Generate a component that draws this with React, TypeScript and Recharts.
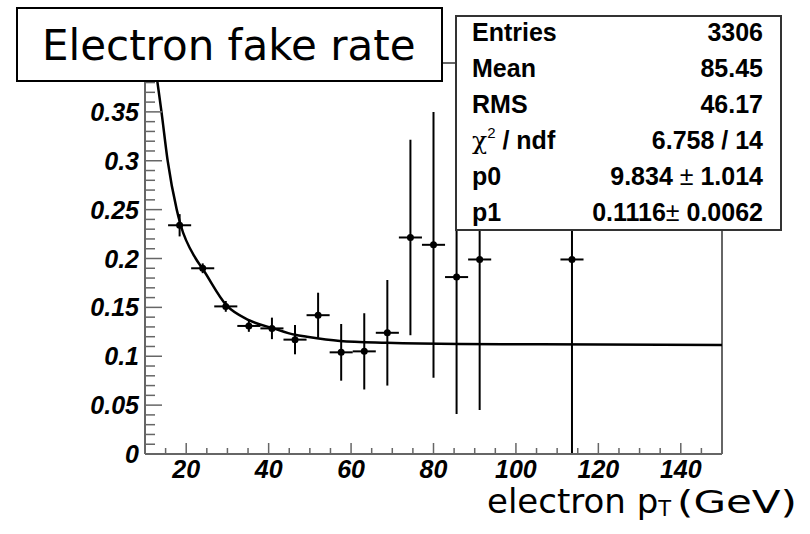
import React from 'react';
import {
  ComposedChart,
  Scatter,
  Line,
  XAxis,
  YAxis,
  ErrorBar,
  ReferenceLine,
} from 'recharts';

// measured fake rate per pT bin
const BIN_CENTER = [18.4, 24.0, 29.6, 35.2, 40.8, 46.4, 52.0, 57.6, 63.2, 68.8, 74.4, 80.0, 85.6, 91.2, 113.6];
const RATE = [0.234, 0.19, 0.151, 0.131, 0.1285, 0.117, 0.142, 0.104, 0.105, 0.124, 0.2215, 0.214, 0.181, 0.199, 0.199];
const RATE_ERR = [0.0114, 0.005, 0.0055, 0.006, 0.011, 0.015, 0.023, 0.029, 0.039, 0.054, 0.1, 0.136, 0.14, 0.154, 0.199];
const BIN_HALF_WIDTH = 2.8;

// fitted curve, sampled along pT
const FIT_PT = [12.4, 13.0, 14.0, 15.5, 17.7, 18.6, 22.3, 23.9, 29.8, 35.2, 41.2, 46.4, 49.3, 57.3, 68.6, 86.4, 105.7, 150];
const FIT_RATE = [0.4, 0.381, 0.35, 0.3, 0.25, 0.235, 0.2, 0.19, 0.152, 0.137, 0.1285, 0.122, 0.12, 0.1157, 0.1138, 0.1125, 0.1122, 0.1114];

// major y ticks; only the ones below the title box carry a label
const Y_MAJOR = [0, 0.05, 0.1, 0.15, 0.2, 0.25, 0.3, 0.35, 0.4];
const Y_LABELS = [0, 0.05, 0.1, 0.15, 0.2, 0.25, 0.3, 0.35];
const X_LABELS = [20, 40, 60, 80, 100, 120, 140];

const STATS = [
  ['Entries', '3306'],
  ['Mean', '85.45'],
  ['RMS', '46.17'],
];

const yTicks = Array.from({ length: 41 }, (_, i) => +(i * 0.01).toFixed(2));
const xTicks = Array.from({ length: 27 }, (_, i) => 15 + i * 5);

const points = BIN_CENTER.map((x, i) => ({ x, y: RATE[i], ey: RATE_ERR[i], ex: BIN_HALF_WIDTH }));
const fit = FIT_PT.map((x, i) => ({ x, y: FIT_RATE[i] }));

const AXIS_COLOR = '#666';
const TICK_FONT = '"Liberation Sans", Arial, sans-serif';
const isIn = (list: number[], v: number) => list.some((t) => Math.abs(t - v) < 1e-6);

const YTick = (props: any) => {
  const { x, y, payload } = props;
  const major = isIn(Y_MAJOR, payload.value);
  return (
    <g>
      <line x1={x} y1={y} x2={x + (major ? 17 : 10)} y2={y} stroke={AXIS_COLOR} strokeWidth={1.5} />
      {isIn(Y_LABELS, payload.value) && (
        <text
          x={x - 6}
          y={y}
          dy="0.36em"
          textAnchor="end"
          fontFamily={TICK_FONT}
          fontWeight="bold"
          fontStyle="italic"
          fontSize={25}
          fill="#000"
        >
          {String(payload.value)}
        </text>
      )}
    </g>
  );
};

const XTick = (props: any) => {
  const { x, y, payload } = props;
  const major = X_LABELS.includes(payload.value);
  return (
    <g>
      <line x1={x} y1={y} x2={x} y2={y - (major ? 11 : 6)} stroke={AXIS_COLOR} strokeWidth={1.5} />
      {major && (
        <text
          x={x}
          y={y + 24}
          textAnchor="middle"
          fontFamily={TICK_FONT}
          fontWeight="bold"
          fontStyle="italic"
          fontSize={25}
          fill="#000"
        >
          {payload.value}
        </text>
      )}
    </g>
  );
};

const Dot = (props: any) => <circle cx={props.cx} cy={props.cy} r={3.5} fill="#000" />;

export default function App() {
  const statsFont = '"Liberation Sans", Arial, sans-serif';
  const titleFont = '"DejaVu Sans", Verdana, sans-serif';
  return (
    <div style={{ position: 'absolute', left: 0, top: 0, width: 810, height: 534, background: '#fff' }}>
      <ComposedChart
        width={810}
        height={534}
        margin={{ top: 63, right: 88, bottom: 50, left: 85 }}
      >
        <XAxis
          type="number"
          dataKey="x"
          domain={[10, 150]}
          allowDataOverflow
          ticks={xTicks}
          interval={0}
          tickSize={0}
          tickMargin={0}
          height={30}
          axisLine={{ stroke: AXIS_COLOR, strokeWidth: 2 }}
          tickLine={false}
          tick={<XTick />}
        />
        <YAxis
          type="number"
          domain={[0, 0.4]}
          allowDataOverflow
          ticks={yTicks}
          interval={0}
          tickSize={0}
          tickMargin={0}
          width={60}
          axisLine={{ stroke: AXIS_COLOR, strokeWidth: 2 }}
          tickLine={false}
          tick={<YTick />}
        />
        <ReferenceLine y={0.4} stroke={AXIS_COLOR} strokeWidth={2} />
        <ReferenceLine x={150} stroke={AXIS_COLOR} strokeWidth={2} />
        <Line
          data={fit}
          dataKey="y"
          type="monotone"
          stroke="#000"
          strokeWidth={2.5}
          dot={false}
          isAnimationActive={false}
        />
        <Scatter data={points} dataKey="y" shape={<Dot />} isAnimationActive={false}>
          <ErrorBar dataKey="ey" direction="y" width={0} stroke="#000" strokeWidth={2} />
          <ErrorBar dataKey="ex" direction="x" width={0} stroke="#000" strokeWidth={2} />
        </Scatter>
      </ComposedChart>

      <svg
        width={810}
        height={534}
        style={{ position: 'absolute', left: 0, top: 0, pointerEvents: 'none' }}
      >
        {/* title box */}
        <rect x={17} y={8} width={425} height={73} fill="#fff" stroke="#000" strokeWidth={2} />
        <text x={42} y={60} fontFamily={titleFont} fontSize={42} fill="#000">
          Electron fake rate
        </text>

        {/* fit statistics */}
        <rect x={456} y={16} width={325} height={214} fill="#fff" stroke="#333" strokeWidth={2} />
        <g fontFamily={statsFont} fontWeight="bold" fontSize={25} fill="#000">
          {STATS.map(([k, v], i) => (
            <g key={k}>
              <text x={472} y={41 + i * 36}>{k}</text>
              <text x={763} y={41 + i * 36} textAnchor="end">{v}</text>
            </g>
          ))}
          <text x={472} y={149}>
            <tspan fontWeight="normal" fontFamily="'DejaVu Serif', serif">χ</tspan>
            <tspan fontSize={15} fontWeight="normal" dy={-11}>2</tspan>
            <tspan dy={11}> / ndf</tspan>
          </text>
          <text x={763} y={149} textAnchor="end">6.758 / 14</text>
          <text x={472} y={185}>p0</text>
          <text x={763} y={185} textAnchor="end">
            9.834 <tspan fontWeight="normal">±</tspan> 1.014
          </text>
          <text x={472} y={221}>p1</text>
          <text x={763} y={221} textAnchor="end">
            0.1116<tspan fontWeight="normal">±</tspan> 0.0062
          </text>
        </g>

        {/* x axis title */}
        <text x={487} y={513} fontFamily={titleFont} fontSize={34} fill="#000">
          electron p
          <tspan fontSize={21} dy={3}>T</tspan>
        </text>
        <text
          x={677}
          y={513}
          fontFamily={titleFont}
          fontSize={32}
          textLength={120}
          lengthAdjust="spacingAndGlyphs"
          fill="#000"
        >
          (GeV)
        </text>
      </svg>
    </div>
  );
}
